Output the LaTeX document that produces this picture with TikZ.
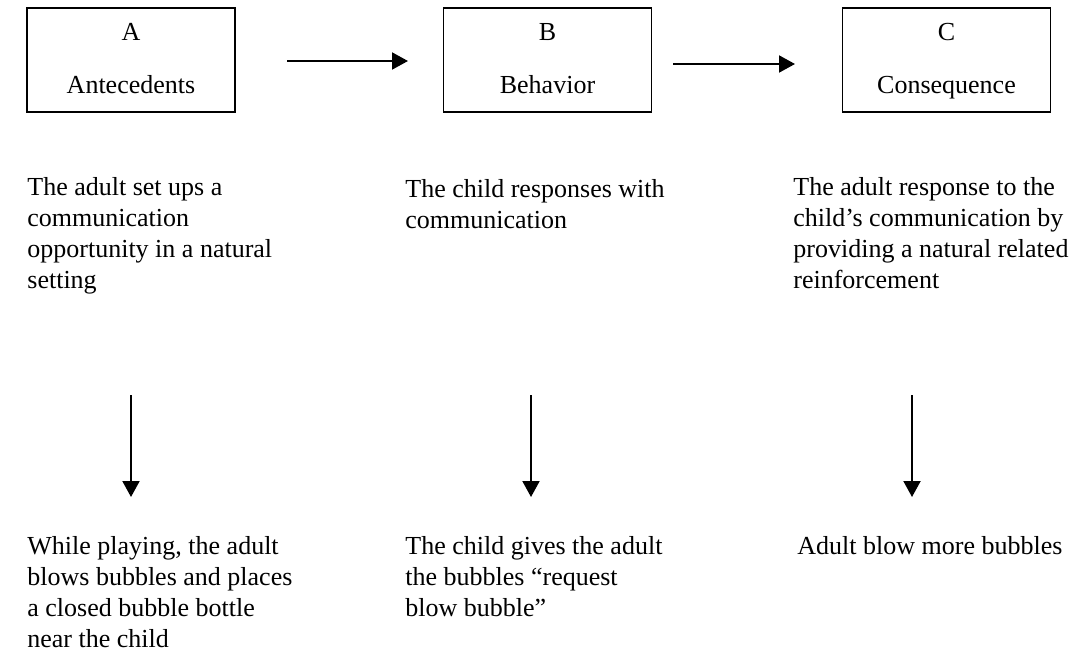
\documentclass[tikz,border=0pt]{standalone}
\usepackage{fontspec}
\setmainfont{Liberation Serif}
\usetikzlibrary{arrows.meta}
\begin{document}
\begin{tikzpicture}[x=0.5pt,y=-0.5pt,
  box/.style={draw,line width=0.9pt,minimum width=104pt,minimum height=52pt,inner sep=0pt},
  lbl/.style={anchor=base,inner sep=0pt,font=\fontsize{13pt}{15.5pt}\selectfont},
  txt/.style={anchor=base west,inner sep=0pt,font=\fontsize{13pt}{15.5pt}\selectfont},
  arr/.style={line width=1pt,-{Triangle[length=8pt,width=8.5pt]}}]
\useasboundingbox (0,0) rectangle (1082,669);
% boxes
\node[box] (A) at (131,60) {};
\node[box] (B) at (547.5,60) {};
\node[box] (C) at (946.5,60) {};
\node[lbl] (Aa) at (131,40.5) {A};
\node[lbl] (Ab) at (131,93) {Antecedents};
\node[lbl] (Ba) at (547.5,40.5) {B};
\node[lbl] (Bb) at (547.5,93) {Behavior};
\node[lbl] (Ca) at (946.5,40.5) {C};
\node[lbl] (Cb) at (946.5,93) {Consequence};
% horizontal arrows
\coordinate (h1s) at (287,61);
\coordinate (h1e) at (408,61);
\coordinate (h2s) at (673,64);
\coordinate (h2e) at (795,64);
\draw[arr] (h1s) -- (h1e);
\draw[arr] (h2s) -- (h2e);
% description texts
\node[txt] (t1) at (27,195) {\parbox[t]{300pt}{\raggedright The adult set ups a\\communication\\opportunity in a natural\\setting}};
\node[txt] (t2) at (405,197) {\parbox[t]{300pt}{\raggedright The child responses with\\communication}};
\node[txt] (t3) at (793,195) {\parbox[t]{300pt}{\raggedright The adult response to the\\child’s communication by\\providing a natural related\\reinforcement}};
% vertical arrows
\coordinate (v1s) at (131,395);
\coordinate (v1e) at (131,497);
\coordinate (v2s) at (531,395);
\coordinate (v2e) at (531,497);
\coordinate (v3s) at (912,395);
\coordinate (v3e) at (912,497);
\draw[arr] (v1s) -- (v1e);
\draw[arr] (v2s) -- (v2e);
\draw[arr] (v3s) -- (v3e);
% example texts
\node[txt] (e1) at (27,554) {\parbox[t]{300pt}{\raggedright While playing, the adult\\blows bubbles and places\\a closed bubble bottle\\near the child}};
\node[txt] (e2) at (405,554) {\parbox[t]{300pt}{\raggedright The child gives the adult\\the bubbles “request\\blow bubble”}};
\node[txt] (e3) at (797,554) {\parbox[t]{300pt}{\raggedright Adult blow more bubbles}};
\end{tikzpicture}
\end{document}
